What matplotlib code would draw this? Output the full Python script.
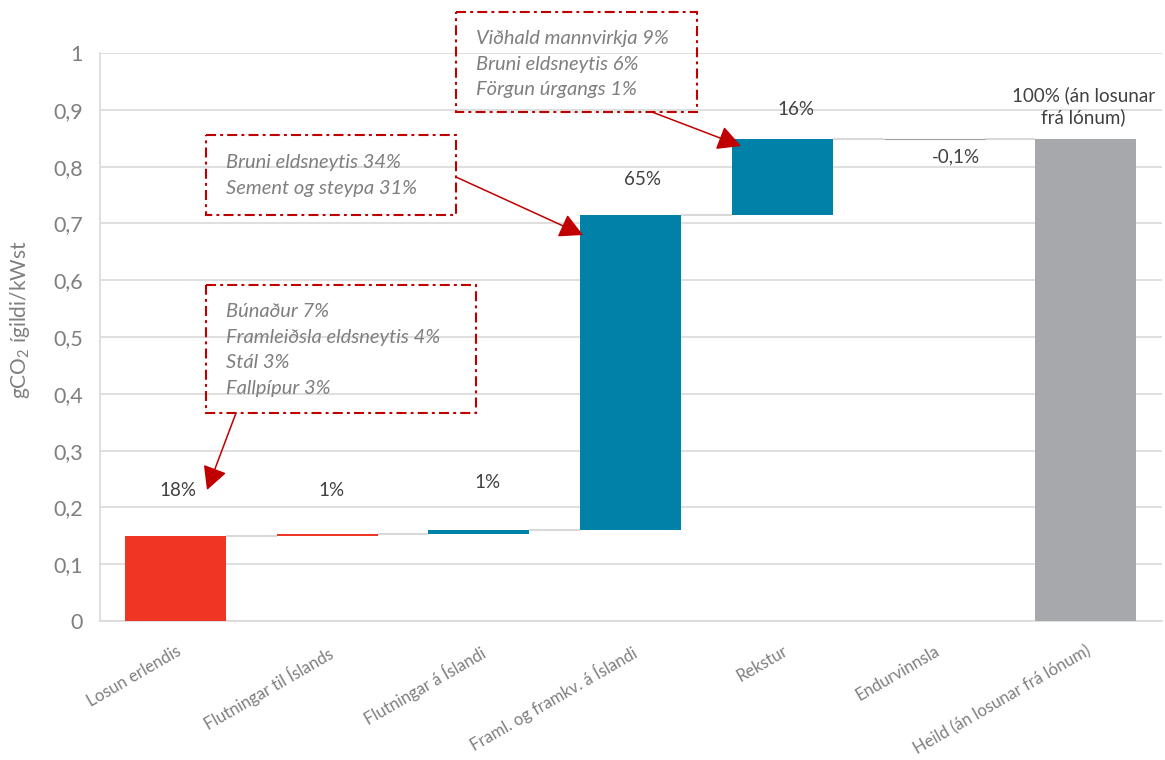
import matplotlib
matplotlib.use('Agg')
import matplotlib.pyplot as plt
import matplotlib.transforms as mtransforms
from matplotlib.patches import Rectangle, FancyArrowPatch
import numpy as np

plt.rcParams['font.family'] = ['Lato', 'DejaVu Sans']
plt.rcParams['mathtext.fontset'] = 'custom'
plt.rcParams['mathtext.rm'] = 'Lato'

# gögn
categories = ['Losun erlendis', 'Flutningar til Íslands', 'Flutningar á Íslandi',
              'Framl. og framkv. á Íslandi', 'Rekstur', 'Endurvinnsla',
              'Heild (án losunar frá lónum)']
steps = [0.149, 0.004, 0.007, 0.555, 0.134, -0.001]   # þrep fossarits
total = 0.848                                          # heildarsúla
value_labels = ['18%', '1%', '1%', '65%', '16%', '-0,1%', '100% (án losunar\nfrá lónum)']
ytick_vals = [0, 0.1, 0.2, 0.3, 0.4, 0.5, 0.6, 0.7, 0.8, 0.9, 1.0]
ytick_labels = ['0', '0,1', '0,2', '0,3', '0,4', '0,5', '0,6', '0,7', '0,8', '0,9', '1']

box_texts = [
    'Viðhald mannvirkja 9%\nBruni eldsneytis 6%\nFörgun úrgangs 1%',
    'Bruni eldsneytis 34%\nSement og steypa 31%',
    'Búnaður 7%\nFramleiðsla eldsneytis 4%\nStál 3%\nFallpípur 3%',
]

# litir og staðsetningar
red = '#EF3524'
teal = '#0081A7'
grey = '#A7A8AB'
bar_colors = [red, red, teal, teal, teal, '#A0A0A0', grey]
label_offsets = [(2, 46), (4, 44), (9, 48), (12, 35), (14, 29), (22, -18), (-2, 33)]  # pixlar
boxes = [(456, 12, 241, 100), (206, 135, 250, 80), (206, 285, 270, 128)]   # x, y, b, h í pixlum
box_text_pos = [(476, 30), (226, 154), (226, 303)]
arrows = [((652, 112), (741, 146)), ((456, 177), (583, 235)), ((236, 413), (207, 490))]

W, H = 1165, 760
fig = plt.figure(figsize=(W / 100, H / 100), dpi=100)
ax = fig.add_axes([99.6 / W, 139 / H, 1062 / W, 568 / H])
px = mtransforms.Affine2D().scale(1 / W, -1 / H).translate(0, 1) + fig.transFigure

n = len(categories)
x = np.arange(n)
cum = np.concatenate([[0], np.cumsum(steps)])
bottoms = list(cum[:-1]) + [0]
heights = list(steps) + [total]
width = 0.666

bars = ax.bar(x, heights, bottom=bottoms, width=width, color=bar_colors, zorder=3)
bars[5].set_edgecolor('#A0A0A0')
bars[5].set_linewidth(0.8)

# tengilínur
tops = list(cum[1:]) + [total]
for i in range(n - 1):
    ax.hlines(tops[i], i + width / 2, i + 1 - width / 2, color='#d9d9d9', lw=1.5, zorder=2)

# gildismerki
for i in range(n):
    top = max(bottoms[i], bottoms[i] + heights[i])
    dx, dy = label_offsets[i]
    ax.annotate(value_labels[i], (x[i], top), xytext=(dx, dy), textcoords='offset pixels',
                ha='center', va='center', fontsize=13.5, color='#404040', linespacing=1.25)

ax.set_xlim(-0.5, n - 0.5)
ax.set_ylim(0, 1)
ax.set_yticks(ytick_vals)
ax.set_yticklabels(ytick_labels, fontsize=15.5, color='#7f7f7f')
ax.set_xticks(x)
ax.set_xticklabels(categories, rotation=30, ha='right', va='top', rotation_mode='anchor',
                   fontsize=12, color='#7f7f7f')
shift = mtransforms.ScaledTranslation(-6 / 100, 0, fig.dpi_scale_trans)
for lab in ax.get_xticklabels():
    lab.set_transform(lab.get_transform() + shift)
ax.tick_params(axis='both', length=0)
ax.tick_params(axis='y', pad=12)
ax.tick_params(axis='x', pad=16)
ax.yaxis.grid(True, color='#d9d9d9', lw=1.2, zorder=0)
ax.set_axisbelow(True)
for s in ['top', 'right']:
    ax.spines[s].set_visible(False)
for s in ['left', 'bottom']:
    ax.spines[s].set_color('#d9d9d9')
    ax.spines[s].set_linewidth(1.2)

fig.text(20 / W, 1 - 320 / H, r'gCO$_2$ ígildi/kWst', rotation=90, ha='center', va='center',
         fontsize=15, color='#7f7f7f')

# skýringarkassar
for (bx, by, bw, bh), (tx, ty), txt in zip(boxes, box_text_pos, box_texts):
    fig.add_artist(Rectangle((bx, by), bw, bh, transform=px, fill=False, edgecolor='#C00000',
                             lw=1.5, linestyle=(0, (4.8, 2, 1.4, 2))))
    fig.text(tx, ty, txt, transform=px, ha='left', va='top', fontsize=14.5, style='italic',
             color='#7f7f7f', linespacing=1.62)

for start, tip in arrows:
    fig.add_artist(FancyArrowPatch(start, tip, transform=px, arrowstyle='-|>,head_length=0.8,head_width=0.42',
                                   mutation_scale=18, color='#C00000', lw=1.1, shrinkA=0, shrinkB=0))

fig.savefig('out.png', dpi=100)
